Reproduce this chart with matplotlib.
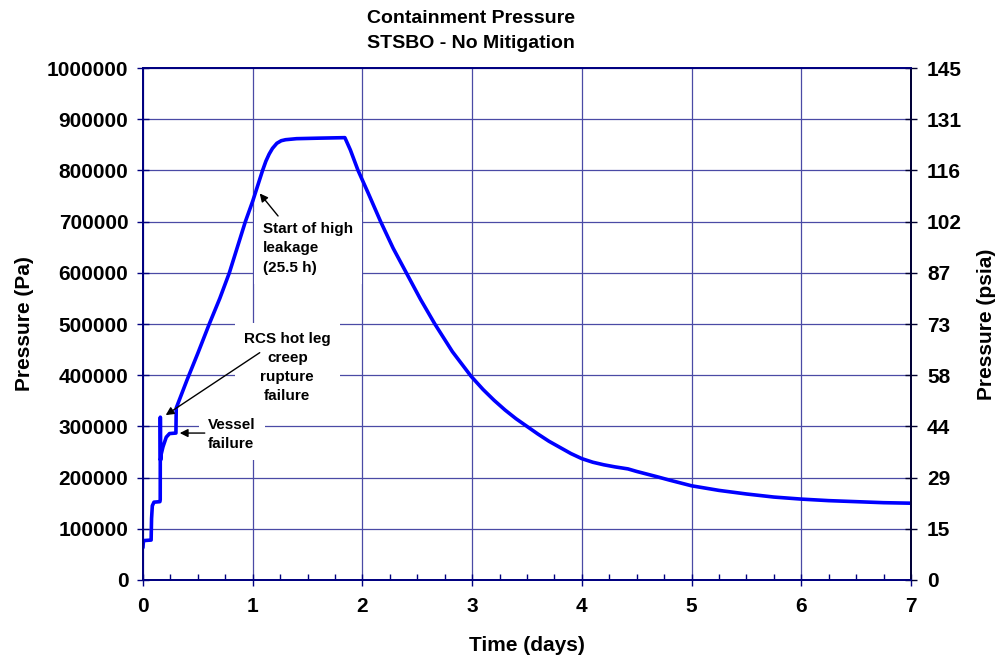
import matplotlib
matplotlib.use("Agg")
import matplotlib.pyplot as plt
from matplotlib.ticker import MultipleLocator

plt.rcParams['font.family'] = ['Liberation Sans', 'DejaVu Sans']
plt.rcParams['font.weight'] = 'bold'

# ------------------------------------------------------------------
# data
# ------------------------------------------------------------------
time_days = [0.0, 0.004, 0.008, 0.074, 0.078, 0.085, 0.10, 0.154, 0.157,
             0.158, 0.160, 0.165, 0.182, 0.212, 0.242, 0.300, 0.303, 0.40,
             0.50, 0.604, 0.70, 0.787, 0.86, 0.933, 1.00, 1.09, 1.12, 1.15,
             1.18, 1.22, 1.26, 1.30, 1.40, 1.60, 1.84, 1.89, 1.96, 2.05,
             2.166, 2.28, 2.40, 2.53, 2.66, 2.82, 2.99, 3.10, 3.20, 3.30,
             3.40, 3.50, 3.60, 3.70, 3.80, 3.90, 4.00, 4.10, 4.20, 4.30,
             4.39, 4.42, 4.50, 4.68, 4.80, 5.00, 5.25, 5.50, 5.75, 6.00,
             6.25, 6.50, 6.75, 7.00]
pressure_pa = [65000, 76000, 77000, 78000, 120000, 145000, 152000, 153000,
               157000, 318000, 234000, 245000, 260000, 279000, 286000,
               287000, 336000, 390000, 443000, 500000, 550000, 600000,
               650000, 700000, 740000, 800000, 818000, 832000, 843000,
               853000, 858000, 860000, 862000, 863000, 864000, 840000,
               800000, 757000, 700000, 648000, 600000, 548000, 500000,
               446000, 398000, 372000, 351000, 332000, 315000, 300000,
               285000, 271000, 259000, 247000, 237000, 230000, 225000,
               221000, 218000, 217000, 212000, 202000, 195000, 184000,
               175000, 168000, 162000, 158000, 155000, 153000, 151000,
               150000]

pa_ticks = [0, 100000, 200000, 300000, 400000, 500000,
            600000, 700000, 800000, 900000, 1000000]
psia_labels = ['0', '15', '29', '44', '58', '73', '87', '102', '116', '131', '145']
day_ticks = [0, 1, 2, 3, 4, 5, 6, 7]

title = "Containment Pressure\nSTSBO - No Mitigation"
note_leak = "Start of high\nleakage\n(25.5 h)"
note_rcs = "RCS hot leg\ncreep\nrupture\nfailure"
note_vessel = "Vessel\nfailure"

NAVY = '#000080'
GRID = '#4a4aa5'

fig = plt.figure(figsize=(10, 6.63), dpi=100)
ax = fig.add_axes([0.143, 0.1252, 0.768, 0.7722])
ax2 = ax.twinx()

ax.plot(time_days, pressure_pa, color='#0000ff', lw=2.6, zorder=3)

ax.set_xlim(0, 7)
ax.set_ylim(0, 1000000)
ax.set_xticks(day_ticks)
ax.xaxis.set_minor_locator(MultipleLocator(0.25))
ax.set_yticks(pa_ticks)
ax.set_yticklabels([str(v) for v in pa_ticks])
ax.grid(True, which='major', color=GRID, lw=0.9)
ax.set_axisbelow(True)

ax2.set_ylim(0, 1000000)
ax2.set_yticks(pa_ticks)
ax2.set_yticklabels(psia_labels)

for a in (ax, ax2):
    for s in a.spines.values():
        s.set_color(NAVY)
        s.set_linewidth(1.3)
ax2.spines['right'].set_color('#000030')

ax.tick_params(axis='both', which='major', direction='inout', length=9,
               width=1.0, color=NAVY, labelsize=15, pad=6)
ax.tick_params(axis='x', which='major', pad=8)
ax.tick_params(axis='x', which='minor', direction='in', length=4,
               width=1.0, color=NAVY)
ax2.tick_params(axis='y', which='major', direction='inout', length=9,
                width=1.0, color='#000030', labelsize=15, pad=7)

ax.set_xlabel('Time (days)', fontsize=15, fontweight='bold', labelpad=14)
ax.set_ylabel('Pressure (Pa)', fontsize=15, fontweight='bold', labelpad=9)
ax2.set_ylabel('Pressure (psia)', fontsize=15, fontweight='bold', labelpad=11)

fig.text(0.471, 1 - 31 / 663, title, ha='center', va='center',
         fontsize=14, fontweight='bold', linespacing=1.55)

# annotations (text boxes with white fill hide the grid, as in Excel)
box = dict(boxstyle='square,pad=0.6', facecolor='white', edgecolor='none')
ax.text(1.092, 700000, note_leak, ha='left', va='top', fontsize=11,
        fontweight='bold', linespacing=1.5, bbox=box, zorder=2.5)
ax.text(1.315, 485000, note_rcs, ha='center', va='top', fontsize=11,
        fontweight='bold', linespacing=1.45, bbox=box, zorder=2.5)
ax.text(0.59, 316000, note_vessel, ha='left', va='top', fontsize=11,
        fontweight='bold', linespacing=1.45, bbox=box, zorder=2.5)

arrow = dict(arrowstyle='-|>', color='black', lw=1.0, mutation_scale=12,
             shrinkA=0, shrinkB=0)
ax.annotate('', xy=(1.064, 755000), xytext=(1.231, 711000),
            arrowprops=arrow, zorder=4)
ax.annotate('', xy=(0.207, 322000), xytext=(1.064, 444000),
            arrowprops=arrow, zorder=4)
ax.annotate('', xy=(0.335, 287000), xytext=(0.563, 287000),
            arrowprops=arrow, zorder=4)

fig.savefig('out.png', dpi=100)
